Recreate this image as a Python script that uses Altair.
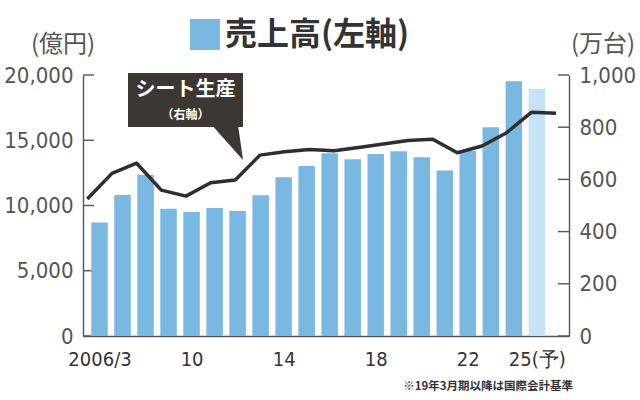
import altair as alt
import pandas as pd

# ---- data ----
years = list(range(2006, 2026))
sales = [8700, 10800, 12340, 9760, 9500, 9810, 9580, 10780, 12160, 13030,
         14000, 13540, 13950, 14150, 13690, 12690, 14180, 15990, 19520, 18950]
seats = [525, 623, 662, 559, 536, 587, 598, 693, 706, 715,
         710, 722, 736, 749, 754, 702, 728, 779, 857, 853]
forecast = [False] * 19 + [True]

x_label_years = [2006, 2010, 2014, 2018, 2022, 2025]
x_label_texts = ["2006/3", "10", "14", "18", "22", "25(予)"]
left_ticks = [0, 5000, 10000, 15000, 20000]
right_ticks = [0, 200, 400, 600, 800, 1000]

df = pd.DataFrame({"year": years, "sales": sales, "seats": seats, "forecast": forecast})

NARROW = "Liberation Sans Narrow, DejaVu Sans Condensed, Roboto Condensed, Roboto, sans-serif"
CJK = "Noto Sans CJK JP"
BLUE = "#7ab8e4"
LIGHT = "#c6e2f6"
AX = "#555555"
DARK = "#3b3833"

label_expr = "''"
for y, t in reversed(list(zip(x_label_years, x_label_texts))):
    label_expr = f"datum.value == {y} ? '{t}' : ({label_expr})"

W, H = 486, 261

left_tick_layer = alt.Chart(pd.DataFrame({"v": left_ticks})).mark_rule(
    color=AX, strokeWidth=1.4
).encode(
    y=alt.Y("v:Q", scale=alt.Scale(domain=[0, 20000], nice=False), axis=None),
    x=alt.value(0), x2=alt.value(11),
)
right_tick_layer = alt.Chart(pd.DataFrame({"v": right_ticks})).mark_rule(
    color=AX, strokeWidth=1.4
).encode(
    y=alt.Y("v:Q", scale=alt.Scale(domain=[0, 1000], nice=False), axis=None),
    x=alt.value(W - 11), x2=alt.value(W),
)

bars = alt.Chart(df).mark_bar(size=16.5).encode(
    x=alt.X("year:Q", scale=alt.Scale(domain=[2005.5, 2026.18], nice=False, zero=False),
            axis=alt.Axis(orient="bottom", values=x_label_years, labelExpr=label_expr,
                          tickSize=0, labelPadding=13, labelFont=NARROW, labelFontSize=20,
                          labelColor="#333333", domainColor=AX, domainWidth=1.4,
                          grid=False, title=None, labelFlush=False, labelOverlap=False)),
    y=alt.Y("sales:Q", scale=alt.Scale(domain=[0, 20000], nice=False),
            axis=alt.Axis(orient="left", values=left_ticks, labelExpr="format(datum.value, ',d')",
                          tickSize=0, labelPadding=10, labelFont=NARROW, labelFontSize=22,
                          labelColor=AX, domainColor=AX, domainWidth=1.4,
                          grid=False, title=None)),
    color=alt.condition("datum.forecast", alt.value(LIGHT), alt.value(BLUE)),
)

line = alt.Chart(df).mark_line(color="#2e2e2e", strokeWidth=3.5, strokeJoin="round").encode(
    x=alt.X("year:Q", scale=alt.Scale(domain=[2005.826, 2025.527], nice=False, zero=False),
            axis=None),
    y=alt.Y("seats:Q", scale=alt.Scale(domain=[0, 1000], nice=False),
            axis=alt.Axis(orient="right", values=right_ticks, labelExpr="format(datum.value, ',d')",
                          tickSize=0, labelPadding=10, labelFont=NARROW, labelFontSize=22,
                          labelColor=AX, domainColor=AX, domainWidth=1.4,
                          grid=False, title=None)),
)

one = pd.DataFrame({"a": [0]})

def txt(text, x, y, size, color, weight="normal", align="center", font=CJK):
    return alt.Chart(one).mark_text(text=text, fontSize=size, color=color, fontWeight=weight,
                                    align=align, baseline="middle", font=font).encode(
        x=alt.value(x), y=alt.value(y))

box = alt.Chart(one).mark_rect(color=DARK).encode(
    x=alt.value(45), x2=alt.value(160), y=alt.value(-2), y2=alt.value(52))
pointer = alt.Chart(one).mark_point(shape="M-0.94,-1.1L0.64,-1.1L0.94,1Z", size=1089,
                                    filled=True, color=DARK, opacity=1, strokeWidth=0).encode(
    x=alt.value(144.5), y=alt.value(68.5))

title_sq = alt.Chart(one).mark_rect(color=BLUE).encode(
    x=alt.value(107), x2=alt.value(137), y=alt.value(-56), y2=alt.value(-25))

layers = [
    left_tick_layer, right_tick_layer, bars, line, box, pointer,
    txt("シート生産", 102.5, 15, 20, "white", "bold"),
    txt("（右軸）", 102.5, 40, 12, "white", "bold"),
    title_sq,
    txt("売上高(左軸)", 142, -40, 32, "#333333", "bold", "left"),
    txt("(億円)", -20, -30, 24, AX),
    txt("(万台)", 520, -30, 24, AX),
    txt("※19年3月期以降は国際会計基準", 490, 312, 11.5, "#333333", "bold", "right"),
]

chart = alt.layer(*layers).resolve_scale(x="independent", y="independent").properties(
    width=W, height=H,
    autosize=alt.AutoSizeParams(type="none"),
    padding={"left": 83, "top": 75, "right": 71, "bottom": 64},
    background="white",
).configure_view(strokeWidth=0)

chart.save("out.html", embed_options={"renderer": "svg", "actions": False})
